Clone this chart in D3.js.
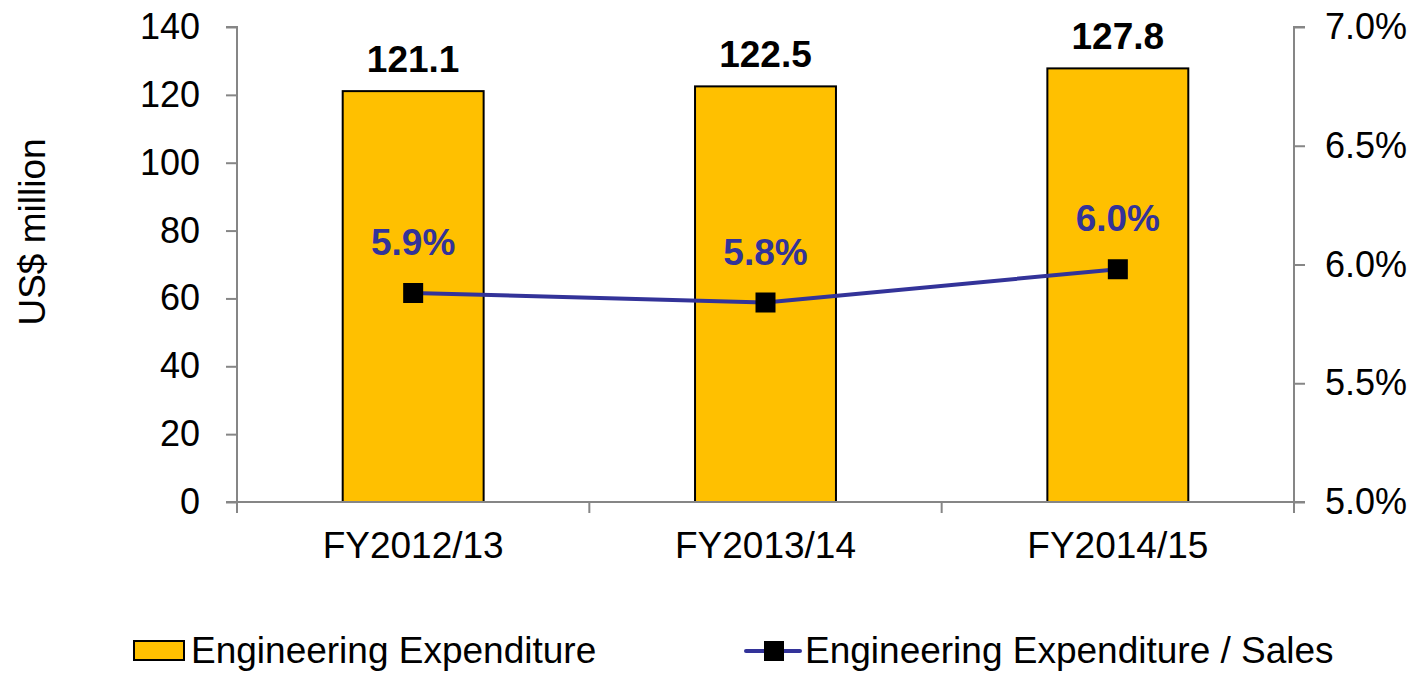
<!DOCTYPE html>
<html>
<head>
<meta charset="utf-8">
<script src="https://cdn.jsdelivr.net/npm/d3@7"></script>
<style>
  body { margin: 0; background: #fff; }
  svg { display: block; font-family: "Liberation Sans", Arial, sans-serif; }
</style>
</head>
<body>
<svg id="chart" width="1418" height="673"></svg>
<script>
// chart data
const categories = ["FY2012/13", "FY2013/14", "FY2014/15"];
const expenditure = [121.1, 122.5, 127.8];
const ratio = [5.88, 5.84, 5.98];          // % of sales, plotted on right axis
const ratioLabels = ["5.9%", "5.8%", "6.0%"];
const leftTicks = [0, 20, 40, 60, 80, 100, 120, 140];
const rightTicks = [5.0, 5.5, 6.0, 6.5, 7.0];

const svg = d3.select("#chart");
const m = { left: 237, right: 1294, top: 27, bottom: 502 };
const axisColor = "#868686";
const lineColor = "#333399";
const fs = 36;

const x = d3.scaleBand().domain(categories).range([m.left, m.right]).paddingInner(0.6).paddingOuter(0.3);
const yL = d3.scaleLinear().domain([0, 140]).range([m.bottom, m.top]);
const yR = d3.scaleLinear().domain([5.0, 7.0]).range([m.bottom, m.top]);

// bars
svg.append("g")
    .selectAll("rect")
    .data(expenditure)
    .join("rect")
    .attr("x", (d, i) => x(categories[i]))
    .attr("y", d => yL(d))
    .attr("width", x.bandwidth())
    .attr("height", d => yL(0) - yL(d))
    .attr("fill", "#FFC000")
    .attr("stroke", "#000")
    .attr("stroke-width", 2);

// bar value labels
svg.append("g")
    .selectAll("text")
    .data(expenditure)
    .join("text")
    .attr("x", (d, i) => x(categories[i]) + x.bandwidth() / 2)
    .attr("y", d => yL(d) - 19)
    .attr("text-anchor", "middle")
    .attr("font-size", 37)
    .attr("font-weight", "bold")
    .text(d => d.toFixed(1));

// left axis
const gl = svg.append("g").attr("transform", `translate(${m.left},0)`)
    .call(d3.axisLeft(yL).tickValues(leftTicks).tickSize(11).tickPadding(26));
gl.selectAll("text").attr("font-size", fs).attr("fill", "#000").attr("font-family", "Liberation Sans, Arial, sans-serif");

// right axis
const gr = svg.append("g").attr("transform", `translate(${m.right},0)`)
    .call(d3.axisRight(yR).tickValues(rightTicks).tickSize(11).tickPadding(20).tickFormat(d => d.toFixed(1) + "%"));
gr.selectAll("text").attr("font-size", fs).attr("fill", "#000").attr("font-family", "Liberation Sans, Arial, sans-serif");

// bottom axis: ticks at category boundaries
const gx = svg.append("g").attr("transform", `translate(0,${m.bottom})`);
gx.append("line").attr("x1", m.left).attr("x2", m.right);
const bounds = d3.range(categories.length + 1).map(i => m.left + i * (m.right - m.left) / categories.length);
gx.selectAll("line.tk")
    .data(bounds)
    .join("line")
    .attr("class", "tk")
    .attr("x1", d => d).attr("x2", d => d)
    .attr("y1", 0).attr("y2", 11);
gx.selectAll("text")
    .data(categories)
    .join("text")
    .attr("x", d => x(d) + x.bandwidth() / 2)
    .attr("y", 56)
    .attr("text-anchor", "middle")
    .attr("font-size", 37)
    .text(d => d);

svg.selectAll(".domain, .tick line, g line")
    .attr("stroke", axisColor)
    .attr("stroke-width", 2);
gl.select(".domain").attr("d", `M-11,${m.top}H0V${m.bottom}H-11`);
gr.select(".domain").attr("d", `M11,${m.top}H0V${m.bottom}H11`);

// axis title
svg.append("text")
    .attr("transform", `translate(45,232) rotate(-90)`)
    .attr("text-anchor", "middle")
    .attr("font-size", 37)
    .text("US$ million");

// ratio line
const cx = (d, i) => x(categories[i]) + x.bandwidth() / 2;
svg.append("path")
    .datum(ratio)
    .attr("fill", "none")
    .attr("stroke", lineColor)
    .attr("stroke-width", 4)
    .attr("d", d3.line().x(cx).y(d => yR(d)));

svg.append("g")
    .selectAll("rect")
    .data(ratio)
    .join("rect")
    .attr("x", (d, i) => cx(d, i) - 10)
    .attr("y", d => yR(d) - 10)
    .attr("width", 20)
    .attr("height", 20)
    .attr("fill", "#000");

svg.append("g")
    .selectAll("text")
    .data(ratio)
    .join("text")
    .attr("x", cx)
    .attr("y", d => yR(d) - 38)
    .attr("text-anchor", "middle")
    .attr("font-size", 37)
    .attr("font-weight", "bold")
    .attr("fill", lineColor)
    .text((d, i) => ratioLabels[i]);

// legend
const lg = svg.append("g");
lg.append("rect").attr("x", 134).attr("y", 641).attr("width", 50).attr("height", 19)
    .attr("fill", "#FFC000").attr("stroke", "#000").attr("stroke-width", 2);
lg.append("text").attr("x", 191).attr("y", 663).attr("font-size", 37).text("Engineering Expenditure");
lg.append("line").attr("x1", 746).attr("x2", 800).attr("y1", 651).attr("y2", 651)
    .attr("stroke", lineColor).attr("stroke-width", 4).attr("stroke-linecap", "round");
lg.append("rect").attr("x", 764).attr("y", 641).attr("width", 20).attr("height", 20).attr("fill", "#000");
lg.append("text").attr("x", 805).attr("y", 663).attr("font-size", 37).text("Engineering Expenditure / Sales");
</script>
</body>
</html>
